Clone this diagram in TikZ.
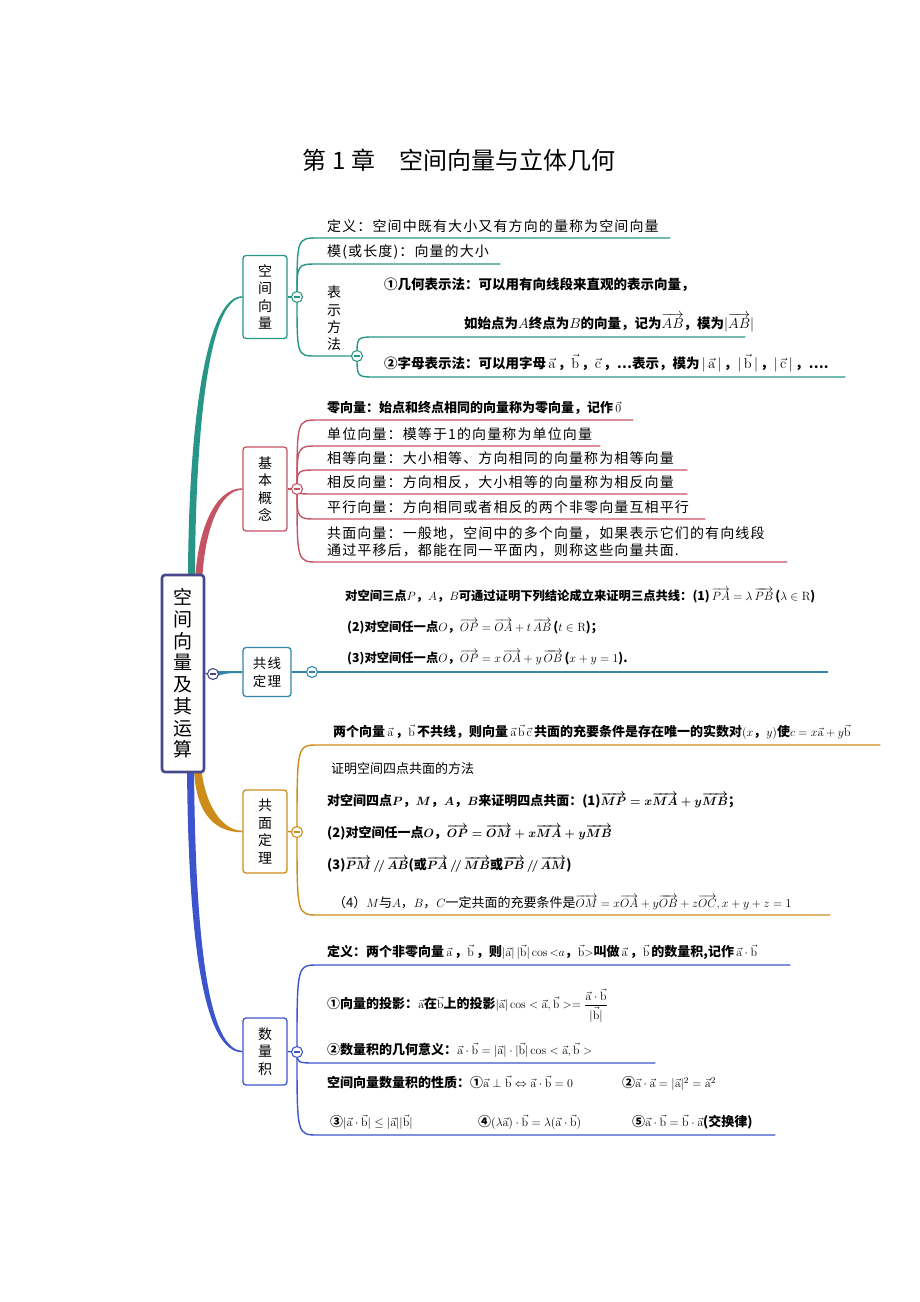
\documentclass[tikz,border=0pt]{standalone}
\usepackage{amsmath}
\usepackage[no-math]{fontspec}
\setmainfont{Noto Sans CJK SC}
\newfontfamily\kai[LetterSpace=8]{Noto Sans CJK SC}
\usetikzlibrary{calc,backgrounds}

\definecolor{rootc}{RGB}{72,72,140}
\definecolor{tealc}{RGB}{40,150,135}
\definecolor{redc}{RGB}{196,84,100}
\definecolor{linec}{RGB}{50,135,170}
\definecolor{goldc}{RGB}{205,140,25}
\definecolor{bluec}{RGB}{60,85,205}

\newcommand\vecx[1]{\vec{\mathrm{#1}}}
\newcommand\ovr[1]{\overrightarrow{#1}}

\tikzstyle{root box}  = [draw=rootc,line width=2.6pt,rounded corners=3pt,fill=white,minimum width=42pt,minimum height=197pt,align=center,inner sep=0pt,font=\fontsize{19}{21.7}\selectfont]
\tikzstyle{topic box} = [draw=#1,line width=1.3pt,rounded corners=3pt,fill=white,minimum width=44pt,align=center,inner sep=0pt,font=\kai\fontsize{14}{17.5}\selectfont]
\tikzstyle{fold knob} = [circle,draw=#1,line width=1.1pt,fill=white,minimum size=11pt,inner sep=0pt,path picture={\draw[#1,line width=1.1pt] ([xshift=-3pt]path picture bounding box.center) -- ([xshift=3pt]path picture bounding box.center);}]
\tikzstyle{leaf text} = [anchor=south west,align=left,inner xsep=9pt,inner ysep=5pt,font=\kai\fontsize{14}{18}\selectfont]
\tikzstyle{bold leaf} = [leaf text,font=\bfseries\fontsize{13}{17}\selectfont]
\tikzstyle{twig}      = [draw=#1,line width=1.4pt]

\begin{document}
\begin{tikzpicture}[x=1pt,y=-1pt]
\useasboundingbox (0,0) rectangle (920,1302);
% Title
\node[font=\fontsize{24}{28}\selectfont] (title) at (459,160) {第 1 章\quad 空间向量与立体几何};
% Root and first level
\node[root box] (root) at (183,673.5) {空\\间\\向\\量\\及\\其\\运\\算};
\node[fold knob=rootc] (r0) at (213,674) {};
\node[topic box=tealc,minimum height=83pt] (kj) at (265,297) {空\\间\\向\\量};
\node[fold knob=tealc] (k0) at (297,297) {};
\node[topic box=redc,minimum height=84pt] (gn) at (265,489) {基\\本\\概\\念};
\node[fold knob=redc] (g0) at (297,489) {};
\node[topic box=linec,minimum width=48pt,minimum height=49pt,font=\kai\fontsize{13.5}{18}\selectfont] (gx) at (267,672) {共线\\定理};
\node[fold knob=linec] (x0) at (312,672) {};
\node[topic box=goldc,minimum height=83pt] (gm) at (265,831.5) {共\\面\\定\\理};
\node[fold knob=goldc] (m0) at (297,832) {};
\node[topic box=bluec,minimum height=67pt] (sl) at (265,1051.5) {数\\量\\积};
\node[fold knob=bluec] (s0) at (297,1052) {};
% Leaves of the vector definition
\node[leaf text,text width=334pt] (k1) at (318,238) {定义：空间中既有大小又有方向的量称为空间向量};
\node[leaf text,text width=164pt] (k2) at (318,264) {模(或长度)：向量的大小};
\node[leaf text,text width=14pt,inner xsep=11pt,font=\kai\fontsize{14}{17.3}\selectfont] (k3) at (316,356) {表\\示\\方\\法};
\node[fold knob=tealc] (k4) at (357,356) {};
\node[bold leaf,font=\bfseries\fontsize{13.5}{17}\selectfont,text width=352pt] (k5) at (375,337)
  {①几何表示法：可以用有向线段来直观的表示向量，\\[20pt]\hspace*{80pt}如始点为$A$终点为$B$的向量，记为$\ovr{AB}$，模为$|\ovr{AB}|$};
\node[bold leaf,font=\bfseries\fontsize{13.5}{17}\selectfont,text width=452pt] (k6) at (375,377)
  {②字母表示法：可以用字母\,$\vecx{a}$\,，$\vecx{b}$\,，$\vecx{c}$\,，…表示，模为\,$|\,\vecx{a}\,|$\,，$|\,\vecx{b}\,|$\,，$|\,\vecx{c}\,|$\,，….};
% Leaves of the basic notions
\node[bold leaf,text width=297pt] (g1) at (318,420) {零向量：始点和终点相同的向量称为零向量，记作\,$\vec{0}$};
\node[leaf text,text width=264pt] (g2) at (318,446) {单位向量：模等于1的向量称为单位向量};
\node[leaf text,text width=351pt] (g3) at (318,470) {相等向量：大小相等、方向相同的向量称为相等向量};
\node[leaf text,text width=351pt] (g4) at (318,494) {相反向量：方向相反，大小相等的向量称为相反向量};
\node[leaf text,text width=369pt] (g5) at (318,519) {平行向量：方向相同或者相反的两个非零向量互相平行};
\node[leaf text,text width=451pt,font=\kai\fontsize{14}{17}\selectfont] (g6) at (318,562)
  {共面向量：一般地，空间中的多个向量，如果表示它们的有向线段\\通过平移后，都能在同一平面内，则称这些向量共面.};
% Leaf of the collinear theorem
\node[bold leaf,font=\bfseries\fontsize{12.3}{16}\selectfont,text width=492pt,inner ysep=7pt] (x1) at (318,672)
  {\mbox{\hspace*{18pt}对空间三点$P$，$A$，$B$可通过证明下列结论成立来证明三点共线：(1)\,$\ovr{PA}=\lambda\,\ovr{PB}$\,($\lambda\in\mathrm{R}$)}\\[15pt]
   \hspace*{20pt}(2)对空间任一点$O$，$\ovr{OP}=\ovr{OA}+t\,\ovr{AB}$\,($t\in\mathrm{R}$)；\\[15pt]
   \hspace*{20pt}(3)对空间任一点$O$，$\ovr{OP}=x\,\ovr{OA}+y\,\ovr{OB}$\,($x+y=1$).};
% Leaves of the coplanar theorem
\node[bold leaf,text width=544pt] (m1) at (318,745)
  {\hspace*{6pt}两个向量\,$\vecx{a}$\,，$\vecx{b}$\,不共线，则向量\,$\vecx{a}\,\vecx{b}\,\vecx{c}$\,共面的充要条件是存在唯一的实数对$(x$，$y)$使$c=x\vecx{a}+y\vecx{b}$};
\node[leaf text,font=\fontsize{13}{32}\selectfont,text width=494pt] (m2) at (318,915)
  {\hspace*{4pt}证明空间四点共面的方法\\
   {\bfseries\boldmath 对空间四点$P$，$M$，$A$，$B$来证明四点共面：(1)$\ovr{MP}=x\ovr{MA}+y\ovr{MB}$；}\\
   {\bfseries\boldmath (2)对空间任一点$O$，$\ovr{OP}=\ovr{OM}+x\ovr{MA}+y\ovr{MB}$}\\
   {\bfseries\boldmath (3)$\ovr{PM}\,/\!/\,\ovr{AB}$(或$\ovr{PA}\,/\!/\,\ovr{MB}$或$\ovr{PB}\,/\!/\,\ovr{AM}$)}\\[6pt]
   \hspace*{6pt}（4）$M$与$A$，$B$，$C$一定共面的充要条件是$\ovr{OM}=x\ovr{OA}+y\ovr{OB}+z\ovr{OC},x+y+z=1$};
% Leaves of the dot product
\node[bold leaf,text width=454pt] (s1) at (318,965)
  {定义：两个非零向量\,$\vecx{a}$\,，$\vecx{b}$\,，则$|\vecx{a}|\,|\vecx{b}|\cos{<}a$，$\vecx{b}{>}$叫做\,$\vecx{a}$\,，$\vecx{b}$\,的数量积,记作\,$\vecx{a}\cdot\vecx{b}$};
\node[bold leaf,text width=319pt] (s2) at (318,1063)
  {①向量的投影：$\vecx{a}$在$\vecx{b}$上的投影$|\vecx{a}|\cos<\vecx{a},\vecx{b}>=\dfrac{\vecx{a}\cdot\vecx{b}}{|\vecx{b}|}$\\[20pt]
   ②数量积的几何意义：$\vecx{a}\cdot\vecx{b}=|\vecx{a}|\cdot|\vecx{b}|\cos<\vecx{a},\vecx{b}>$};
\node[bold leaf,text width=439pt] (s3) at (318,1135)
  {\makebox[295pt][l]{空间向量数量积的性质：①$\vecx{a}\perp\vecx{b}\Leftrightarrow\vecx{a}\cdot\vecx{b}=0$}②$\vecx{a}\cdot\vecx{a}=|\vecx{a}|^2=\vecx{a}^2$\\[22pt]
   \hspace*{3pt}\makebox[148pt][l]{③$|\vecx{a}\cdot\vecx{b}|\le|\vecx{a}||\vecx{b}|$}\makebox[154pt][l]{④$(\lambda\vecx{a})\cdot\vecx{b}=\lambda(\vecx{a}\cdot\vecx{b})$}⑤$\vecx{a}\cdot\vecx{b}=\vecx{b}\cdot\vecx{a}$(交换律)};
% Connectors behind the nodes
\begin{scope}[on background layer]
  % main branches from the root
  \fill[tealc] ($(root.north)+(5,10)$) .. controls (188,430) and (205,296.2) .. ($(kj.west)+(0,-0.8)$)
    -- ($(kj.west)+(0,0.8)$) .. controls (209,297.8) and (195,430) .. ($(root.north)+(12,10)$) -- cycle;
  \fill[redc] ($(root.north)+(12,10)$) .. controls (197,530) and (215,488.2) .. ($(gn.west)+(0,-0.8)$)
    -- ($(gn.west)+(0,0.8)$) .. controls (220,489.8) and (204,530) .. ($(root.north)+(19,10)$) -- cycle;
  \fill[linec] ($(r0)+(0,-2.8)$) .. controls (228,671) .. ($(gx.west)+(0,-1)$)
    -- ($(gx.west)+(0,1)$) .. controls (228,673) .. ($(r0)+(0,2.8)$) -- cycle;
  \fill[goldc] ($(root.south)+(18,-10)$) .. controls (203,800) and (220,830.7) .. ($(gm.west)+(0,-0.8)$)
    -- ($(gm.west)+(0,0.8)$) .. controls (212,832.3) and (194,810) .. ($(root.south)+(11,-10)$) -- cycle;
  \fill[bluec] ($(root.south)+(4,-10)$) .. controls (188,950) and (205,1052.3) .. ($(sl.west)+(0,0.8)$)
    -- ($(sl.west)+(0,-0.8)$) .. controls (210,1050.7) and (195,950) .. ($(root.south)+(11,-10)$) -- cycle;
  \draw[twig=rootc] (root.east) -- (r0);
  % twigs to the leaves
  \draw[twig=tealc] (kj.east) -- (k0);
  \foreach \n in {k1,k2}
    \draw[twig=tealc] (k0.center) .. controls (k0.center |- \n.south west) .. (\n.south west) -- (\n.south east);
  \draw[twig=tealc] (k0.center) .. controls (k0.center |- k3.south west) .. (k3.south west) -- (k4);
  \foreach \n in {k5,k6}
    \draw[twig=tealc] (k4.center) .. controls (k4.center |- \n.south west) .. (\n.south west) -- (\n.south east);
  \draw[twig=redc] (gn.east) -- (g0);
  \foreach \i in {1,...,6}
    \draw[twig=redc] (g0.center) .. controls (g0.center |- g\i.south west) .. (g\i.south west) -- (g\i.south east);
  \draw[twig=linec] (gx.east) -- (x0);
  \draw[twig=linec] (x0.center) -- (x1.south west) -- (x1.south east);
  \draw[twig=goldc] (gm.east) -- (m0);
  \foreach \n in {m1,m2}
    \draw[twig=goldc] (m0.center) .. controls (m0.center |- \n.south west) .. (\n.south west) -- (\n.south east);
  \draw[twig=bluec] (sl.east) -- (s0);
  \foreach \n in {s1,s2,s3}
    \draw[twig=bluec] (s0.center) .. controls (s0.center |- \n.south west) .. (\n.south west) -- (\n.south east);
\end{scope}
\end{tikzpicture}
\end{document}
